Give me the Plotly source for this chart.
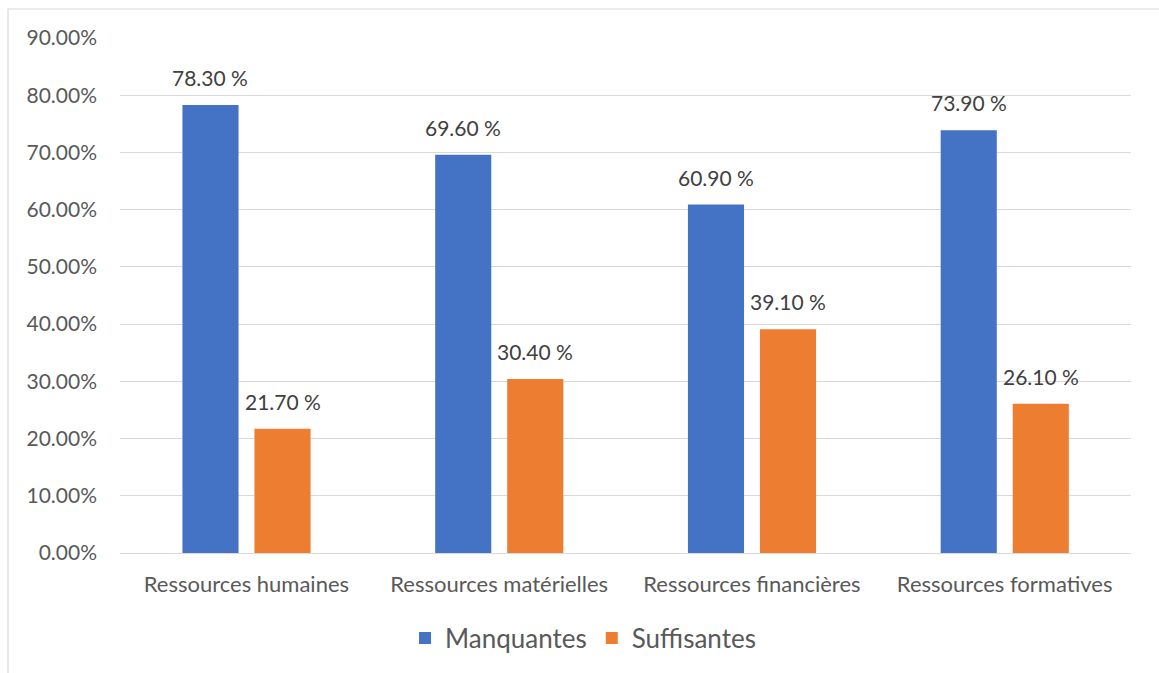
import plotly.graph_objects as go

categories = ["Ressources humaines", "Ressources matérielles", "Ressources financières", "Ressources formatives"]
manquantes = [78.30, 69.60, 60.90, 73.90]
suffisantes = [21.70, 30.40, 39.10, 26.10]
y_ticks = [0, 10, 20, 30, 40, 50, 60, 70, 80, 90]
y_tick_labels = [f"{v:.2f}%" for v in y_ticks]

W, H = 1159, 673
ML, MR, MT, MB = 120, 28, 38, 120
FONT = "Lato"
BAR_W = 0.222
OFFSETS = {"Manquantes": -0.253, "Suffisantes": 0.032}

fig = go.Figure()
fig.add_trace(go.Bar(
    name="Manquantes", x=categories, y=manquantes,
    marker=dict(color="#4472C4", line=dict(width=0)),
    width=BAR_W, offset=OFFSETS["Manquantes"],
))
fig.add_trace(go.Bar(
    name="Suffisantes", x=categories, y=suffisantes,
    marker=dict(color="#ED7D31", line=dict(width=0)),
    width=BAR_W, offset=OFFSETS["Suffisantes"],
))

# value labels above each bar
for name, values in (("Manquantes", manquantes), ("Suffisantes", suffisantes)):
    for i, v in enumerate(values):
        fig.add_annotation(
            x=i + OFFSETS[name] + BAR_W / 2, y=v, xref="x", yref="y",
            text=f"{v:.2f} %", showarrow=False, yanchor="bottom", yshift=13,
            font=dict(family=FONT, size=21, color="#404040"),
        )

pw = W - ML - MR
ph = H - MT - MB
fig.add_shape(type="rect", xref="paper", yref="paper",
              x0=(8 - ML) / pw, x1=1.2, y0=-0.5, y1=1 + (MT - 9) / ph,
              line=dict(color="#D9D9D9", width=1.2), fillcolor="rgba(0,0,0,0)", layer="below")

fig.update_layout(
    width=W, height=H,
    margin=dict(l=ML, r=MR, t=MT, b=MB),
    paper_bgcolor="white", plot_bgcolor="white",
    barmode="group",
    font=dict(family=FONT, color="#595959"),
    xaxis=dict(showgrid=False, showline=False, ticks="", zeroline=False,
               tickfont=dict(family=FONT, size=22, color="#595959"), ticklabelstandoff=16),
    yaxis=dict(range=[0, 90], tickvals=y_ticks, ticktext=y_tick_labels,
               showgrid=True, gridcolor="#D9D9D9", gridwidth=1.3,
               zeroline=True, zerolinecolor="#D9D9D9", zerolinewidth=1.3,
               showline=False, ticks="",
               tickfont=dict(family=FONT, size=21, color="#595959"), ticklabelstandoff=22),
    legend=dict(orientation="h", x=0.458, xanchor="center", y=-0.165, yanchor="middle",
                font=dict(family=FONT, size=26, color="#595959"),
                itemwidth=30, traceorder="normal"),
    showlegend=True,
)

fig.write_html("out.html")
